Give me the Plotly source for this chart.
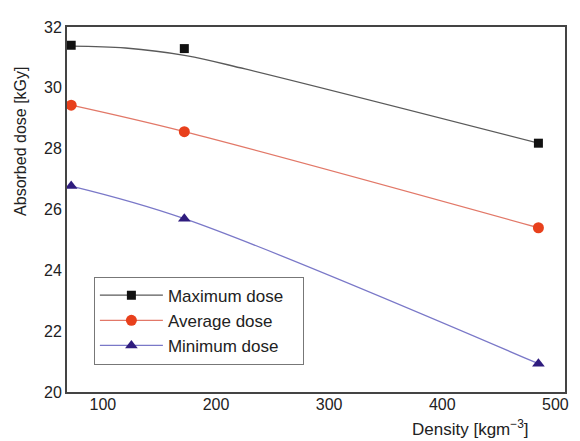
import plotly.graph_objects as go

# Data
density = [72, 172, 485]
max_dose = [31.40, 31.29, 28.18]
avg_dose = [29.43, 28.56, 25.40]
min_dose = [26.77, 25.70, 20.93]

# fitted trend curve for the maximum dose
max_fit_x = [72, 120, 173.5, 225.7, 485]
max_fit_y = [31.37, 31.31, 31.06, 30.62, 28.18]

x_ticks = [100, 200, 300, 400, 500]
y_ticks = [20, 22, 24, 26, 28, 30, 32]

names = ["Maximum dose", "Average dose", "Minimum dose"]
line_colors = ["#5a5a5a", "#e27868", "#7a78c8"]
marker_colors = ["#111111", "#e8401c", "#2f1c7e"]
symbols = ["square", "circle", "triangle-up"]
msizes = [9, 11, 11]

fig = go.Figure()

# trend lines
fig.add_trace(go.Scatter(x=max_fit_x, y=max_fit_y, mode="lines", line=dict(color=line_colors[0], width=1.3, shape="spline"), showlegend=False, hoverinfo="skip"))
fig.add_trace(go.Scatter(x=density, y=avg_dose, mode="lines", line=dict(color=line_colors[1], width=1.3, shape="spline"), showlegend=False, hoverinfo="skip"))
fig.add_trace(go.Scatter(x=density, y=min_dose, mode="lines", line=dict(color=line_colors[2], width=1.3, shape="spline"), showlegend=False, hoverinfo="skip"))

# markers
for ys, i in [(max_dose, 0), (avg_dose, 1), (min_dose, 2)]:
    fig.add_trace(go.Scatter(x=density, y=ys, mode="markers",
                             marker=dict(symbol=symbols[i], color=marker_colors[i], size=msizes[i]),
                             showlegend=False))

# legend entries
for i in range(3):
    fig.add_trace(go.Scatter(x=[None], y=[None], mode="lines+markers", name=names[i] + "\u00a0\u00a0\u00a0",
                             line=dict(color=line_colors[i], width=1.3),
                             marker=dict(symbol=symbols[i], color=marker_colors[i], size=msizes[i])))

# page body has an 8px margin, so the figure is sized/offset to compensate
fig.update_layout(
    width=572, height=433,
    margin=dict(l=59, r=12, t=11, b=49),
    paper_bgcolor="white", plot_bgcolor="white",
    font=dict(family="Liberation Sans, Arial, sans-serif", size=16, color="#222"),
    legend=dict(x=0.054, y=0.316, xanchor="left", yanchor="top",
                bordercolor="#777", borderwidth=1, bgcolor="white",
                font=dict(size=17), tracegroupgap=0, itemwidth=63),
    xaxis=dict(range=[68.3, 508.5], tickvals=x_ticks, ticks="", showgrid=False, zeroline=False,
               showline=True, linecolor="#444", linewidth=2, mirror=True, ticklabelstandoff=-3),
    yaxis=dict(range=[20, 32], tickvals=y_ticks, ticks="", showgrid=False, zeroline=False,
               showline=True, linecolor="#444", linewidth=2, mirror=True),
    annotations=[
        dict(text="Absorbed dose [kGy]", textangle=-90, xref="paper", yref="paper",
             x=-0.093, y=0.687, xanchor="center", yanchor="middle", showarrow=False,
             font=dict(size=16)),
        dict(text="Density [kgm<sup>−3</sup>]", xref="paper", yref="paper",
             x=0.81, y=-0.064, xanchor="center", yanchor="top", showarrow=False,
             font=dict(size=17)),
    ],
)

fig.write_html("out.html")
